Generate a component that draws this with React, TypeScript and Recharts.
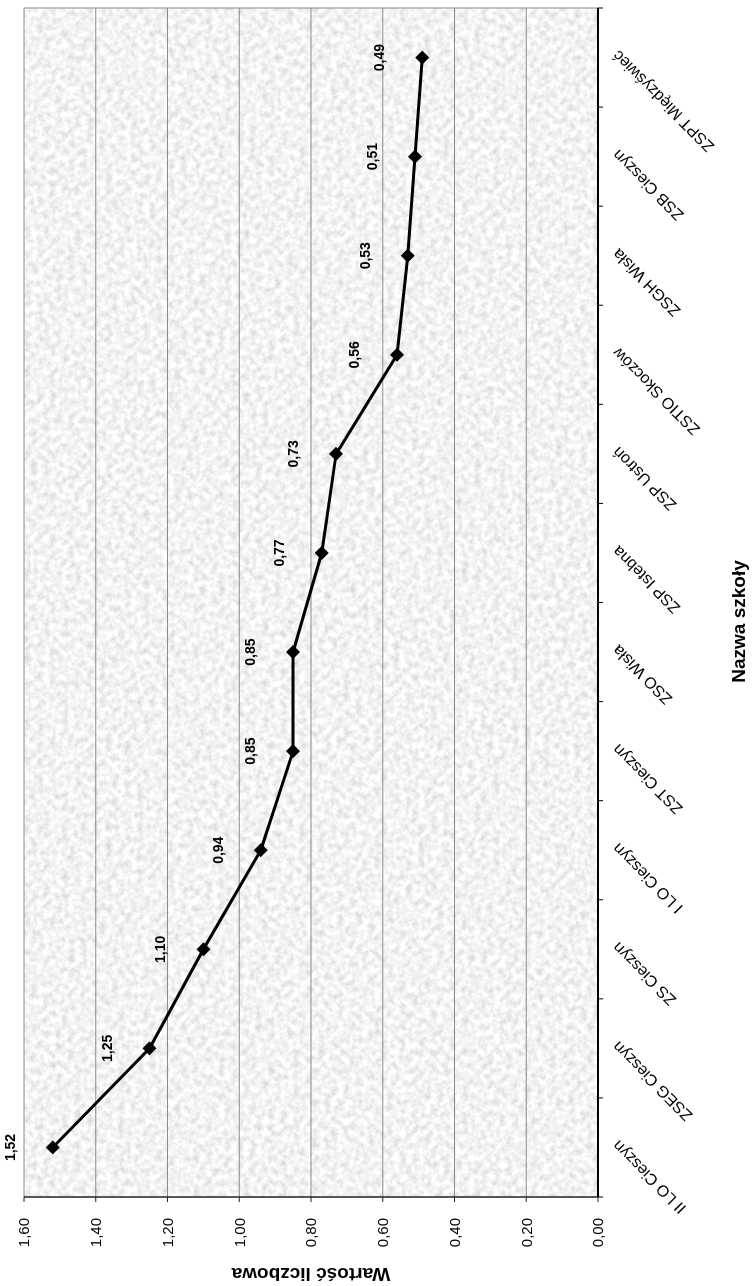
import React from "react";
import {
  CartesianGrid,
  Line,
  LineChart,
  ReferenceLine,
  XAxis,
  YAxis,
} from "recharts";

const schools = [
  "II LO Cieszyn",
  "ZSEG Cieszyn",
  "ZS Cieszyn",
  "I LO Cieszyn",
  "ZST Cieszyn",
  "ZSO Wisła",
  "ZSP Istebna",
  "ZSP Ustroń",
  "ZSTIO Skoczów",
  "ZSGH Wisła",
  "ZSB Cieszyn",
  "ZSPT Międzyświeć",
];

const values = [1.52, 1.25, 1.1, 0.94, 0.85, 0.85, 0.77, 0.73, 0.56, 0.53, 0.51, 0.49];

const valueTicks = [0, 0.2, 0.4, 0.6, 0.8, 1.0, 1.2, 1.4, 1.6];

// chart is drawn upright, then the whole thing is turned 90deg like the scan
const W = 1286;
const H = 754;

// categories sit in the middle of each slot, ticks go between them (Excel style)
const data = schools.map((name, i) => ({ pos: i + 0.5, name, value: values[i] }));
const boundaryTicks = schools.map((_, i) => i).concat(schools.length);
const centerTicks = data.map((d) => d.pos);

const plFmt = (v: number) => v.toFixed(2).replace(".", ",");

function Diamond(props: any) {
  const { cx, cy } = props;
  if (cx == null || cy == null) return null;
  const r = 7;
  return (
    <path
      d={`M${cx},${cy - r}L${cx + r},${cy}L${cx},${cy + r}L${cx - r},${cy}Z`}
      fill="#000"
      stroke="none"
    />
  );
}

function ValueLabel(props: any) {
  const { x, y, value } = props;
  return (
    <text x={x} y={y - 38} textAnchor="middle" fontSize={14} fontWeight="bold" fill="#000">
      {plFmt(value)}
    </text>
  );
}

export default function App() {
  return (
    <div
      style={{
        position: "fixed",
        left: 0,
        top: 0,
        width: W,
        height: H,
        background: "#fff",
        transformOrigin: "0 0",
        transform: `translate(0px, ${W}px) rotate(-90deg)`,
        fontFamily: "'Liberation Sans', Arial, sans-serif",
      }}
    >
      <svg width={0} height={0} style={{ position: "absolute" }}>
        <defs>
          <filter id="granite" x="0" y="0" width="100%" height="100%">
            <feTurbulence type="fractalNoise" baseFrequency="0.16" numOctaves={4} seed={7} />
            <feColorMatrix
              type="matrix"
              values="0.55 0 0 0 0.62  0.55 0 0 0 0.62  0.55 0 0 0 0.62  0 0 0 0 1"
            />
          </filter>
          <pattern id="granitePat" patternUnits="userSpaceOnUse" width={1300} height={800}>
            <rect width={1300} height={800} fill="#e2e2e2" filter="url(#granite)" />
          </pattern>
        </defs>
      </svg>
      <LineChart width={W} height={H} data={data} margin={{ top: 24, right: 8, bottom: 0, left: 0 }}>
        <CartesianGrid
          horizontal
          vertical={false}
          stroke="#8a8a8a"
          strokeWidth={1}
          fill="url(#granitePat)"
          fillOpacity={1}
        />
        <ReferenceLine x={schools.length} stroke="#8a8a8a" strokeWidth={1} />
        <Line
          xAxisId="labels"
          type="linear"
          dataKey="value"
          stroke="#000"
          strokeWidth={3}
          dot={<Diamond />}
          activeDot={false}
          label={<ValueLabel />}
          isAnimationActive={false}
        />
        <XAxis
          xAxisId={0}
          type="number"
          dataKey="pos"
          domain={[0, schools.length]}
          ticks={boundaryTicks}
          interval={0}
          height={1}
          tickSize={5}
          tickFormatter={() => ""}
          axisLine={{ stroke: "#000", strokeWidth: 2 }}
          tickLine={{ stroke: "#000", strokeWidth: 1 }}
        />
        <XAxis
          xAxisId="labels"
          type="number"
          dataKey="pos"
          domain={[0, schools.length]}
          ticks={centerTicks}
          interval={0}
          height={155}
          tickSize={6}
          tickMargin={6}
          axisLine={false}
          tickLine={false}
          angle={-45}
          textAnchor="end"
          tickFormatter={(v: number) => schools[Math.floor(v)]}
          tick={{ fontSize: 16, fill: "#000" }}
          label={{
            value: "Nazwa szkoły",
            position: "insideBottom",
            offset: 9,
            dx: -19,
            style: { fontSize: 19, fontWeight: "bold", fill: "#000" },
          }}
        />
        <YAxis
          type="number"
          domain={[0, 1.6]}
          ticks={valueTicks}
          interval={0}
          width={89}
          tickSize={5}
          tickMargin={16}
          tickFormatter={plFmt}
          axisLine={{ stroke: "#222", strokeWidth: 1.5 }}
          tickLine={{ stroke: "#222" }}
          tick={{ fontSize: 15, fill: "#000" }}
          label={{
            value: "Wartość liczbowa",
            angle: -90,
            position: "insideLeft",
            offset: 11,
            style: { fontSize: 19, fontWeight: "bold", fill: "#000", textAnchor: "middle" },
          }}
        />
      </LineChart>
    </div>
  );
}
